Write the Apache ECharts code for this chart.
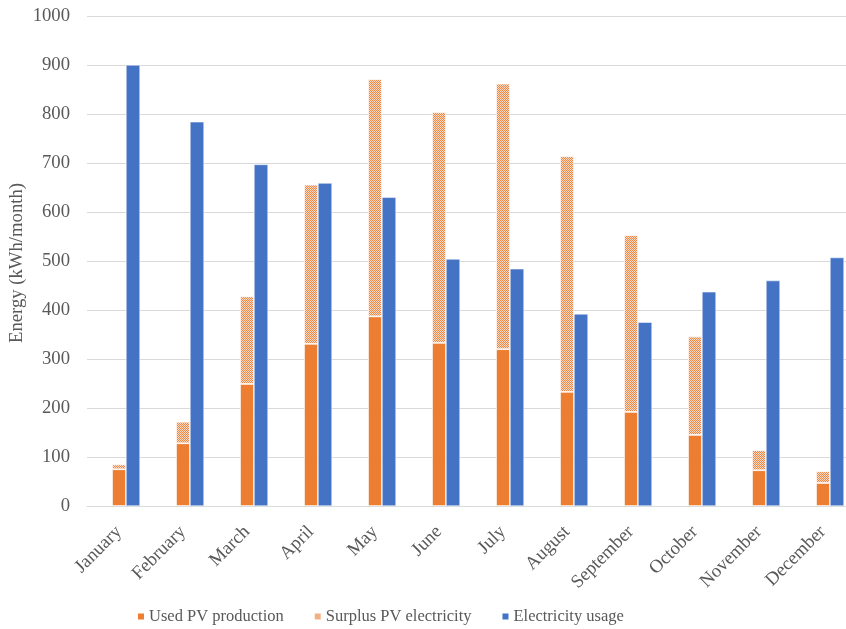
<!DOCTYPE html>
<html>
<head>
<meta charset="utf-8">
<script src="https://cdn.jsdelivr.net/npm/echarts@6/dist/echarts.min.js"></script>
<style>
  html, body { margin: 0; padding: 0; background: #fff; }
  #chart { width: 846px; height: 629px; }
</style>
</head>
<body>
<div id="chart"></div>
<script>
// Monthly energy balance of a PV system (kWh/month)
const months = ['January', 'February', 'March', 'April', 'May', 'June',
                'July', 'August', 'September', 'October', 'November', 'December'];
const usedPV = [75, 128, 249, 331, 387, 333, 320, 233, 192, 145, 73, 47];
const surplusPV = [10, 44, 179, 325, 484, 471, 542, 481, 361, 201, 41, 24];
const usage = [900, 784, 697, 659, 630, 504, 484, 392, 375, 437, 460, 507];
const yTicks = { min: 0, max: 1000, step: 100 };
const yTitle = 'Energy (kWh/month)';

const ORANGE = '#ED7D31';
const BLUE = '#4472C4';
const TEXT = '#595959';
const FONT = '"Liberation Serif", "Times New Roman", serif';

// Fine diagonal dot hatch used for the surplus segment
function hatchPattern() {
  const c = document.createElement('canvas');
  c.width = 4; c.height = 4;
  const g = c.getContext('2d');
  g.fillStyle = '#FADBC6';
  g.fillRect(0, 0, 4, 4);
  g.fillStyle = '#EE8645';
  for (let y = 0; y < 4; y++) {
    for (let x = 0; x < 4; x++) {
      if ((x + y) % 2 === 0) g.fillRect(x, y, 1, 1);
    }
  }
  return { image: c, repeat: 'repeat' };
}

const chart = echarts.init(document.getElementById('chart'), null, { renderer: 'canvas' });

chart.setOption({
  animation: false,
  grid: {
    left: 87, top: 16, width: 768, height: 490,
    containLabel: false, outerBoundsMode: 'none'
  },
  // vertical axis title, centred on the plot height
  graphic: [{
    type: 'text',
    x: 17, y: 263,
    rotation: Math.PI / 2,
    style: {
      text: yTitle,
      font: '18.7px ' + FONT,
      fill: TEXT,
      align: 'center',
      verticalAlign: 'middle'
    }
  }],
  legend: {
    data: ['Used PV production', 'Surplus PV electricity', 'Electricity usage'],
    left: 131, top: 603,
    icon: 'rect', itemWidth: 8, itemHeight: 8, itemGap: 29,
    textStyle: { fontFamily: FONT, fontSize: 16.5, color: TEXT, padding: [0, 0, 0, -1] }
  },
  xAxis: {
    type: 'category',
    data: months,
    axisLine: { show: true, lineStyle: { color: '#D9D9D9', width: 1 } },
    axisTick: { show: false },
    axisLabel: { rotate: 45, margin: 23, fontFamily: FONT, fontSize: 18.7, color: TEXT, interval: 0 }
  },
  yAxis: {
    type: 'value',
    min: yTicks.min, max: yTicks.max, interval: yTicks.step,
    axisLine: { show: false },
    axisTick: { show: false },
    axisLabel: {
      margin: 17, fontFamily: FONT, fontSize: 18.7, color: TEXT,
      formatter: v => String(v)
    },
    splitLine: { lineStyle: { color: '#D9D9D9', width: 1 } }
  },
  series: [
    {
      // empty slot on the left of each cluster
      name: 'spacer', type: 'bar', data: [], barWidth: 14, barGap: '0%'
    },
    {
      name: 'Used PV production', type: 'bar', stack: 'pv', data: usedPV,
      barWidth: 14, barGap: '0%',
      itemStyle: { color: ORANGE, borderColor: '#fff', borderWidth: 0.75 }
    },
    {
      name: 'Surplus PV electricity', type: 'bar', stack: 'pv', data: surplusPV,
      barWidth: 14, barGap: '0%',
      itemStyle: { color: hatchPattern(), borderColor: '#fff', borderWidth: 0.75 }
    },
    {
      name: 'Electricity usage', type: 'bar', data: usage,
      barWidth: 14, barGap: '0%',
      itemStyle: { color: BLUE, borderColor: '#fff', borderWidth: 0.5 }
    }
  ]
});
</script>
</body>
</html>
